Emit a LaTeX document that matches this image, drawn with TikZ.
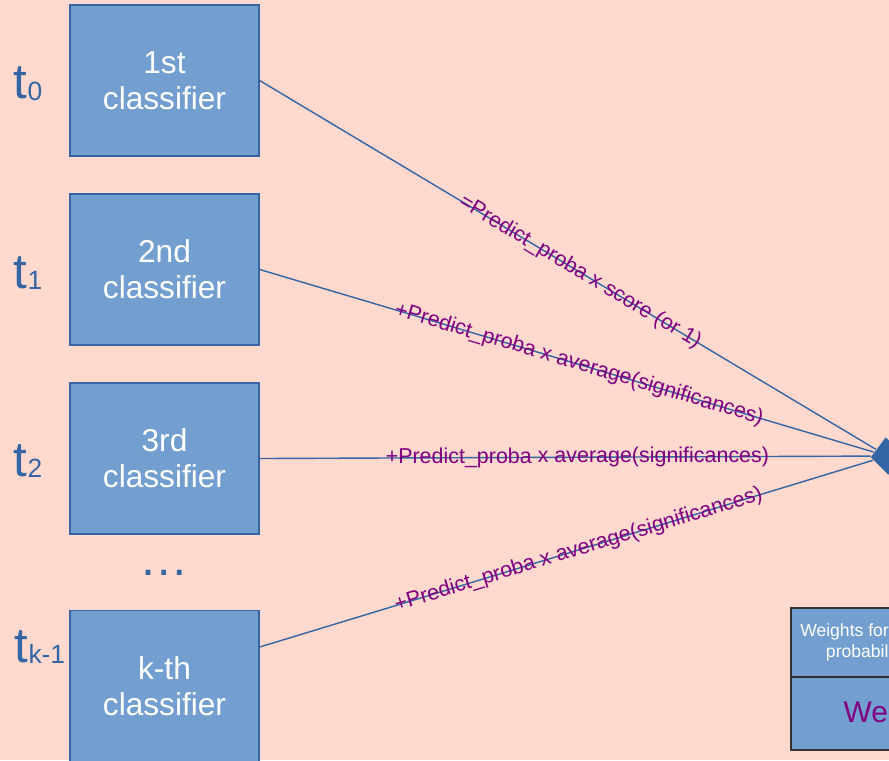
\documentclass[tikz,border=0pt]{standalone}
\usepackage{fontspec}
\setmainfont{Liberation Sans}
\usepackage{tikz}
\usetikzlibrary{shapes.geometric}
\definecolor{bgpink}{HTML}{FFD8CE}
\definecolor{boxblue}{HTML}{729FCF}
\definecolor{darkblue}{HTML}{3465A4}
\definecolor{labpurple}{HTML}{800080}
\newcommand{\tlab}[1]{{\fontsize{14}{14}\selectfont t}{\fontsize{7.5}{8}\selectfont\raisebox{-0.5pt}{#1}}}

\begin{document}
\begin{tikzpicture}[x=0.01cm,y=-0.01cm,
	clf/.style={draw=darkblue,fill=boxblue,text=white,minimum width=1.89cm,minimum height=1.51cm,
		align=center,font=\fontsize{9}{10.2}\selectfont,inner sep=0pt,line width=0.35pt},
	tname/.style={text=darkblue},
	link/.style={draw=darkblue,line width=0.4pt},
	lab/.style={sloped,pos=.52,text=labpurple,font=\fontsize{6.1}{7}\selectfont,inner sep=0pt},
	cell/.style={draw=black!80,fill=boxblue,minimum width=1.5cm,anchor=north west,inner sep=0pt,
		outer sep=0pt,line width=0.5pt}]
	\fill[bgpink] (0,0) rectangle (889,760);
	\useasboundingbox (0,0) rectangle (889,760);
	\clip (0,0) rectangle (889,760);
	% classifiers
	\node[clf] (C0) at (164.5, 80.5) {1st\\classifier};
	\node[clf] (C1) at (164.5, 269.5) {2nd\\classifier};
	\node[clf] (C2) at (164.5, 458.5) {3rd\\classifier};
	\node[clf] (C3) at (164.5, 686) {k-th\\classifier};
	\node[tname] (T0) at (28, 84) {\tlab{0}};
	\node[tname] (T1) at (28, 273) {\tlab{1}};
	\node[tname] (T2) at (28, 461) {\tlab{2}};
	\node[tname] (T3) at (40, 647) {\tlab{k-1}};
	\node[text=darkblue,font=\fontsize{14}{14}\selectfont] (D) at (164, 573) {…};
	% combination
	\node[diamond,fill=darkblue,minimum width=0.33cm,minimum height=0.38cm,inner sep=0pt,rotate=4] (W) at (887, 456) {};
	\draw[link] (C0.east) -- node[lab] {=Predict\_proba x score (or 1)} (W);
	\draw[link] (C1.east) -- node[lab] {+Predict\_proba x average(significances)} (W);
	\draw[link] (C2.east) -- node[lab] {+Predict\_proba x average(significances)} (W);
	\draw[link] (C3.east |- T3.center) -- node[lab] {+Predict\_proba x average(significances)} (W);
	% weights table
	\node[cell,minimum height=0.69cm,text=white,align=center,font=\fontsize{5}{6}\selectfont] (WT) at (791, 608) {Weights for each\\probability};
	\node[cell,minimum height=0.73cm] (WB) at (WT.south west) {};
	\node[anchor=base west,inner sep=0pt,text=labpurple,font=\fontsize{8.5}{9}\selectfont] (WV) at (843, 722) {Weights};
\end{tikzpicture}
\end{document}
